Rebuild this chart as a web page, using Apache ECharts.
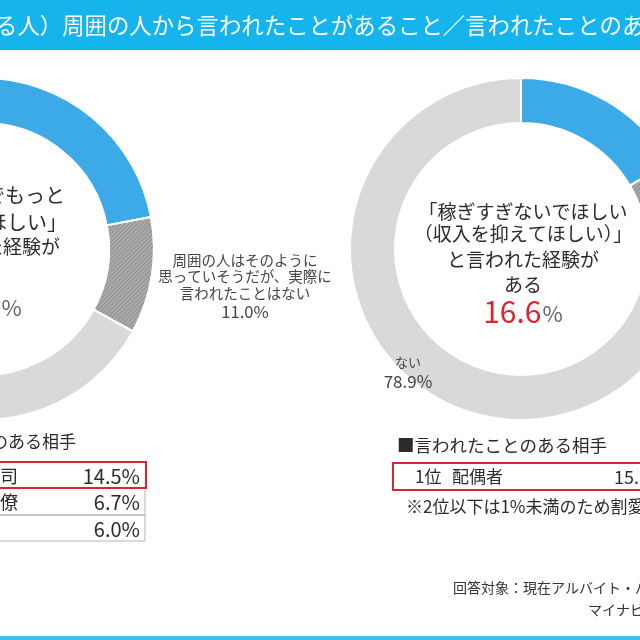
<!DOCTYPE html>
<html>
<head>
<meta charset="utf-8">
<script src="https://cdn.jsdelivr.net/npm/echarts@6/dist/echarts.min.js"></script>
<style>
html,body{margin:0;padding:0;background:#fff;}
#c{width:640px;height:640px;}
</style>
</head>
<body>
<div id="c"></div>
<script>
// ---- data ----
const sliceNames = ['ある', '周囲の人はそのように思っていそうだが、実際に言われたことはない', 'ない'];
const leftValues = [22.0, 11.0, 67.0];
const rightValues = [16.6, 4.5, 78.9];
const leftCenterLines = ['「扶養内でもっと', '働いてほしい」', 'と言われた経験が', 'ある'];
const rightCenterLines = ['「稼ぎすぎないでほしい', '（収入を抑えてほしい）」', 'と言われた経験が', 'ある'];
const leftPartnerRanks = ['1位', '2位', '3位'];
const leftPartnerNames = ['上司', '同僚', '親'];
const leftPartnerValues = ['14.5%', '6.7%', '6.0%'];
const rightPartnerRanks = ['1位'];
const rightPartnerNames = ['配偶者'];
const rightPartnerValues = ['15.8%'];
const titleText = 'る人）周囲の人から言われたことがあること／言われたことのある相手';
const tableHeader = '■言われたことのある相手';
const rightNote = '※2位以下は1%未満のため割愛';
const footRespondents = '回答対象：現在アルバイト・パートで働いている既婚者';
const footSource = 'マイナビバイト調べ';

// ---- style ----
const FONT = '"Noto Sans CJK JP", "Noto Sans", sans-serif';
const BLUE = '#3caae6';
const MID = '#ababab';
const LIGHT = '#d9d9d9';
const CYAN = '#16b4ec';
const RED = '#dc2430';
const TXT = '#2b2b2b';

function pieData(values) {
  return values.map((v, i) => ({
    name: sliceNames[i],
    value: v,
    itemStyle: i === 1 ? {
      color: MID,
      decal: { symbol: 'rect', symbolSize: 1, dashArrayX: [1, 0], dashArrayY: [1, 2], rotation: -Math.PI / 4, color: 'rgba(90,90,90,0.35)' }
    } : { color: i === 0 ? BLUE : LIGHT }
  }));
}
function donut(center, values) {
  return {
    type: 'pie', center: center, radius: [126, 171], startAngle: 90, clockwise: true,
    silent: true, label: { show: false }, labelLine: { show: false },
    itemStyle: { borderColor: '#fff', borderWidth: 2 },
    data: pieData(values)
  };
}
const fmt = v => v.toFixed(1);

const g = [];
// banner
g.push({ type: 'rect', shape: { x: 0, y: 0, width: 640, height: 50 }, style: { fill: CYAN }, z: 10 });
g.push({ type: 'text', x: -5, y: 25, style: { text: titleText, font: '22.4px ' + FONT, fill: '#fff', textAlign: 'left', textVerticalAlign: 'middle' }, z: 11 });
g.push({ type: 'rect', shape: { x: 0, y: 636, width: 640, height: 4 }, style: { fill: '#3cc2f0' }, z: 10 });

// center texts
function centerText(cx, lines, ys, sizes, dx, value, valueY) {
  lines.forEach((t, i) => g.push({ type: 'text', x: cx + dx[i], y: ys[i], style: { text: t, font: sizes[i] + 'px ' + FONT, fill: TXT, textAlign: 'center', textVerticalAlign: 'middle' }, z: 5 }));
  g.push({ type: 'text', x: cx, y: valueY, style: {
    text: '{a|' + fmt(value) + '}{b|%}', textAlign: 'center', textVerticalAlign: 'middle',
    rich: { a: { fontSize: 30, fontFamily: FONT, fill: RED }, b: { fontSize: 22, fontFamily: FONT, fill: '#666', padding: [4, 0, 0, 1] } }
  }, z: 5 });
}
centerText(-18, leftCenterLines, [195, 222, 247, 276], [20, 20, 19, 19], [3, 15, 2, -1], leftValues[0], 306);
centerText(523, rightCenterLines, [212, 234, 260, 285], [19, 19, 19, 19], [0, 0, 0, 0], rightValues[0], 312);

// slice labels
g.push({ type: 'text', x: 245, y: 252, style: {
  text: '{t|周囲の人はそのように}\n{t|思っていそうだが、実際に}\n{t|言われたことはない}\n{v|' + fmt(leftValues[1]) + '%}',
  textAlign: 'center', textVerticalAlign: 'top',
  rich: { t: { fontSize: 14.5, fontFamily: FONT, fill: '#444', lineHeight: 16.5 }, v: { fontSize: 16.5, fontFamily: FONT, fill: '#444', lineHeight: 20 } } }, z: 5 });
g.push({ type: 'text', x: 408, y: 352, style: {
  text: '{t|ない}\n{v|' + fmt(rightValues[2]) + '%}', textAlign: 'center', textVerticalAlign: 'top',
  rich: { t: { fontSize: 13, fontFamily: FONT, fill: '#444', lineHeight: 20 }, v: { fontSize: 17, fontFamily: FONT, fill: '#444', lineHeight: 20 } } }, z: 5 });
g.push({ type: 'text', x: -130, y: 358, style: {
  text: 'ない\n' + fmt(leftValues[2]) + '%', font: '15px ' + FONT, lineHeight: 20, fill: '#444', textAlign: 'center', textVerticalAlign: 'top' }, z: 5 });

// left table
g.push({ type: 'text', x: 76, y: 442, style: { text: tableHeader, font: '17px ' + FONT, fill: TXT, textAlign: 'right', textVerticalAlign: 'middle' }, z: 5 });
const lRows = [[462, 488], [488, 515], [515, 541]];
lRows.forEach((r, i) => {
  if (i > 0) g.push({ type: 'rect', shape: { x: -80, y: r[0], width: 225, height: r[1] - r[0] }, style: { fill: 'none', stroke: '#b5b5b5', lineWidth: 1 }, z: 4 });
  g.push({ type: 'text', x: -56, y: (r[0] + r[1]) / 2 + 1, style: { text: leftPartnerRanks[i], font: '18px ' + FONT, fill: TXT, textAlign: 'left', textVerticalAlign: 'middle' }, z: 5 });
  g.push({ type: 'text', x: -18, y: (r[0] + r[1]) / 2 + 1, style: { text: leftPartnerNames[i], font: '18px ' + FONT, fill: TXT, textAlign: 'left', textVerticalAlign: 'middle' }, z: 5 });
  g.push({ type: 'text', x: 140, y: (r[0] + r[1]) / 2 + 1, style: { text: leftPartnerValues[i], font: '20px ' + FONT, fill: TXT, textAlign: 'right', textVerticalAlign: 'middle' }, z: 5 });
});
g.push({ type: 'rect', shape: { x: -80, y: 462, width: 226, height: 26 }, style: { fill: 'none', stroke: RED, lineWidth: 2 }, z: 6 });

// right table
g.push({ type: 'text', x: 397, y: 445, style: { text: tableHeader, font: '17.5px ' + FONT, fill: TXT, textAlign: 'left', textVerticalAlign: 'middle' }, z: 5 });
g.push({ type: 'rect', shape: { x: 393, y: 463, width: 320, height: 27 }, style: { fill: 'none', stroke: RED, lineWidth: 2 }, z: 6 });
g.push({ type: 'text', x: 415, y: 477, style: { text: rightPartnerRanks[0], font: '17px ' + FONT, fill: TXT, textAlign: 'left', textVerticalAlign: 'middle' }, z: 5 });
g.push({ type: 'text', x: 452, y: 477, style: { text: rightPartnerNames[0], font: '17px ' + FONT, fill: TXT, textAlign: 'left', textVerticalAlign: 'middle' }, z: 5 });
g.push({ type: 'text', x: 614, y: 477, style: { text: rightPartnerValues[0], font: '18px ' + FONT, fill: TXT, textAlign: 'left', textVerticalAlign: 'middle' }, z: 5 });
g.push({ type: 'text', x: 406, y: 507, style: { text: rightNote, font: '17px ' + FONT, fill: TXT, textAlign: 'left', textVerticalAlign: 'middle' }, z: 5 });

// footer
g.push({ type: 'text', x: 453, y: 588, style: { text: footRespondents, font: '14px ' + FONT, fill: '#333', textAlign: 'left', textVerticalAlign: 'middle' }, z: 5 });
g.push({ type: 'text', x: 588, y: 610, style: { text: footSource, font: '14px ' + FONT, fill: '#333', textAlign: 'left', textVerticalAlign: 'middle' }, z: 5 });

const chart = echarts.init(document.getElementById('c'), null, { renderer: 'canvas' });
chart.setOption({
  backgroundColor: '#ffffff',
  animation: false,
  series: [donut([-17, 249], leftValues), donut([521, 249], rightValues)],
  graphic: { elements: g }
});
</script>
</body>
</html>
